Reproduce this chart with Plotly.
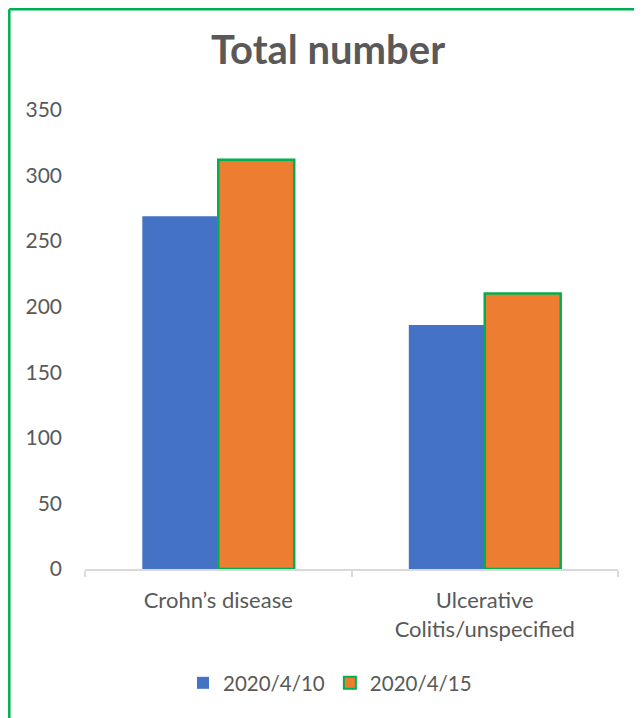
import plotly.graph_objects as go

categories = ["Crohn’s disease", "Ulcerative<br>Colitis/unspecified"]
series_names = ["2020/4/10", "2020/4/15"]
values_0410 = [269, 186]
values_0415 = [312, 210]
y_ticks = [0, 50, 100, 150, 200, 250, 300, 350]

FONT = "Lato, Open Sans, sans-serif"
GRAY = "#595959"
GREEN = "#00B050"

# figure sits 8px into the page (body margin)
W, H = 634, 710
L, R, T, B = 77, 24, 102, 149
PW, PH = W - L - R, H - T - B


def px_x(p):
    return (p - L) / PW


def px_y(p):
    return (H - B - p) / PH


fig = go.Figure()
fig.add_trace(go.Bar(
    x=categories, y=values_0410, name=series_names[0],
    marker=dict(color="#4472C4", line=dict(width=0)),
))
fig.add_trace(go.Bar(
    x=categories, y=values_0415, name=series_names[1],
    marker=dict(color="#ED7D31", line=dict(color=GREEN, width=2.5)),
))

bx0, by0, bx1, by1 = px_x(1.3), px_y(1.3), px_x(W), px_y(H)

fig.update_layout(
    width=W, height=H,
    margin=dict(l=L, r=R, t=T, b=B),
    paper_bgcolor="white", plot_bgcolor="white",
    barmode="group", bargap=0.43, bargroupgap=0,
    font=dict(family=FONT, color=GRAY, size=21),
    title=dict(text="<b>Total number</b>", x=px_x(320), xref="paper", xanchor="center",
               y=1 - 42 / H, yref="container", yanchor="middle",
               font=dict(family=FONT, size=40, color=GRAY)),
    showlegend=True,
    legend=dict(orientation="h", x=px_x(322), xanchor="center",
                y=px_y(675), yanchor="middle", itemwidth=30,
                font=dict(size=20.5, color=GRAY), itemsizing="constant",
                traceorder="normal"),
    xaxis=dict(showline=True, linecolor="#D9D9D9", linewidth=1.5,
               ticks="outside", tickson="boundaries", ticklen=6, tickcolor="#D9D9D9",
               tickwidth=1.5, tickfont=dict(size=22, color=GRAY), showgrid=False,
               ticklabelstandoff=11),
    yaxis=dict(range=[0, 350], tickvals=y_ticks, showgrid=False, zeroline=False,
               showline=False, ticks="", tickfont=dict(size=21, color=GRAY),
               ticklabelstandoff=22),
    shapes=[
        dict(type="line", xref="paper", yref="paper", x0=bx0, x1=bx1, y0=by0, y1=by0,
             line=dict(color=GREEN, width=2.5)),
        dict(type="line", xref="paper", yref="paper", x0=bx0, x1=bx0, y0=by0, y1=by1,
             line=dict(color=GREEN, width=2.5)),
    ],
)

fig.write_html("out.html")
